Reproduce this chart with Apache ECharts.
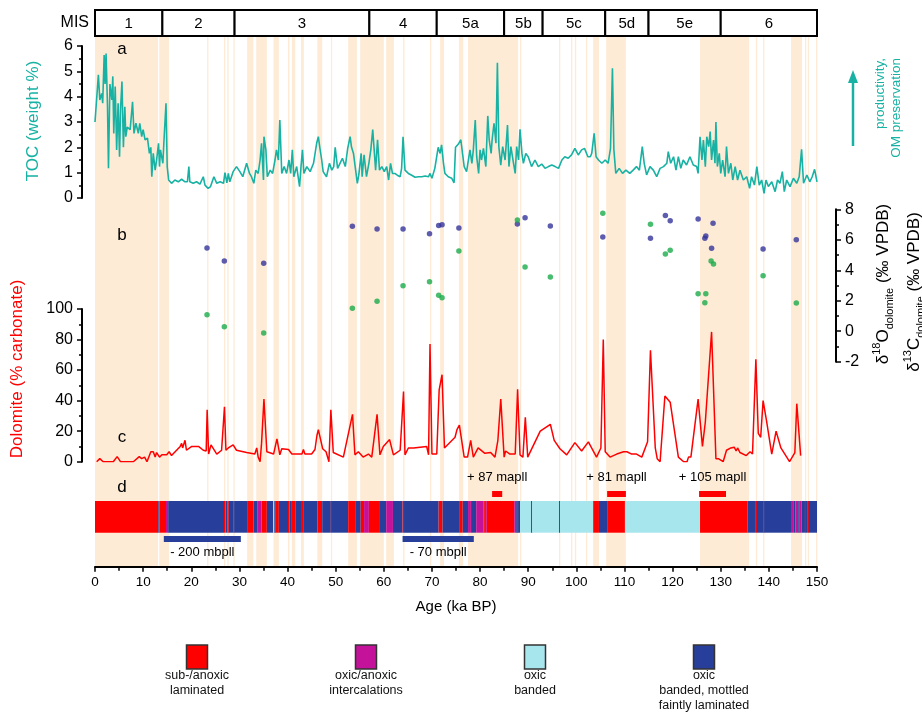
<!DOCTYPE html>
<html><head><meta charset="utf-8">
<script src="https://cdn.jsdelivr.net/npm/echarts@6/dist/echarts.min.js"></script>
<style>html,body{margin:0;padding:0;background:#fff}#c{width:922px;height:715px}</style>
</head><body><div id="c"></div>
<script>
// ---------------- DATA ----------------
const misEdges = [0, 14, 29, 57, 71, 85, 93, 106, 115, 130, 150];
const misLabels = ['1', '2', '3', '4', '5a', '5b', '5c', '5d', '5e', '6'];

const bandStart = [0, 13.35, 23.3, 26.8, 27.5, 28.75, 31.6, 33.5, 37.1, 40.1, 40.9, 42.8, 46.2, 49.0, 52.6, 55.1, 60.5, 64.0, 69.6, 71.7, 75.6, 77.5, 88.3, 96.4, 98.9, 99.7, 102.0, 103.5, 106.2, 125.7, 137.3, 138.8, 144.6, 147.5, 148.1, 149.8];
const bandEnd   = [13.1, 15.4, 23.5, 27.05, 27.75, 29.0, 32.9, 35.7, 38.2, 40.4, 41.6, 43.4, 47.2, 49.25, 54.4, 60.0, 62.1, 64.3, 69.85, 72.5, 76.5, 87.9, 88.5, 96.65, 99.1, 99.9, 102.2, 104.7, 110.3, 135.9, 137.5, 139.0, 146.9, 147.75, 148.35, 150];

const tocAge = [0,0.7,1.0,1.4,1.6,1.9,2.1,2.3,2.6,2.8,3.1,3.5,3.7,3.9,4.2,4.5,4.8,5.1,5.3,5.6,5.9,6.2,6.4,6.7,7.3,7.8,8.1,8.5,9.0,9.3,9.7,10.0,10.4,10.9,11.3,11.6,11.8,12.1,12.5,12.8,13.2,13.4,13.6,14.1,14.3,14.75,15.0,15.3,15.9,16.6,17.3,18.0,18.7,19.2,19.5,19.7,20.4,21.1,21.8,22.5,22.85,23.5,24.0,24.7,25.3,26.0,26.7,27.0,27.4,27.7,28.0,28.7,29.4,30.1,30.7,31.5,32.1,32.5,33.0,33.4,33.9,34.3,34.6,35.0,35.1,35.5,35.8,36.4,36.9,37.4,37.7,38.1,38.4,38.8,39.3,39.8,40.3,40.65,41.0,41.3,41.9,42.5,42.8,43.1,43.4,44.0,44.7,45.4,46.05,46.4,46.7,47.1,47.4,48.1,48.7,49.2,49.6,49.9,50.4,50.9,51.4,52.0,52.5,53.0,53.3,53.7,54.0,54.5,54.8,55.3,55.5,55.9,56.4,56.9,57.3,57.7,58.0,58.3,58.7,59.1,59.6,60.1,60.6,61.0,61.4,61.8,62.3,62.8,63.4,63.7,64.0,64.4,65.1,65.8,66.5,67.2,67.9,68.6,69.3,69.6,70.0,70.6,71.3,71.7,72.0,72.4,72.7,73.4,74.1,74.6,74.9,75.5,76.0,76.4,76.7,77.2,77.9,78.3,78.6,79.0,79.3,79.7,80.0,80.3,80.7,81.2,81.6,81.9,82.3,82.5,82.9,83.3,83.6,83.9,84.3,84.7,85.2,85.7,86.0,86.4,86.9,87.3,87.6,88.0,88.3,88.7,89.0,89.5,90.0,90.7,91.4,92.1,92.8,93.5,94.2,94.9,95.6,96.3,97.0,97.6,98.3,99.0,99.7,100.4,101.1,101.7,102.4,102.9,103.2,103.7,104.1,104.6,105.3,106.0,106.6,107.1,107.5,107.8,108.2,108.9,109.6,110.3,111.1,111.8,112.5,113.1,113.7,114.1,114.6,115.3,116.0,116.7,117.4,118.1,118.8,119.1,119.6,120.2,120.7,121.2,121.7,122.2,122.9,123.6,124.3,125.0,125.3,125.7,126.1,126.4,126.8,127.1,127.5,127.8,128.1,128.5,128.8,129.0,129.3,129.7,130.0,130.4,130.9,131.2,131.6,132.1,132.5,133.0,133.5,134.0,134.7,135.4,136.0,136.4,137.0,137.5,138.0,138.5,139.0,139.4,139.9,140.6,141.3,141.8,142.3,142.8,143.2,143.7,144.4,145.1,145.8,146.3,146.8,147.2,147.9,148.5,149.0,149.5,150.0];
const tocVal = [3.0,4.86,3.87,4.13,3.74,5.64,4.5,5.7,3.6,1.17,4.5,3.87,4.8,2.55,4.4,1.9,3.74,1.63,3.47,4.6,2.0,3.6,2.42,2.8,2.7,3.8,2.55,2.95,2.55,2.95,2.42,2.7,2.3,2.36,1.76,2.0,0.84,1.76,1.1,1.5,2.16,1.24,1.9,1.37,2.16,3.74,1.24,0.71,0.58,0.71,0.64,0.74,0.64,0.64,1.24,0.64,0.58,0.64,0.55,0.84,0.51,0.38,0.45,0.84,0.58,0.64,0.58,1.0,0.6,0.97,0.64,1.04,1.24,1.04,0.84,1.37,0.97,0.84,0.58,1.1,0.97,1.5,2.16,0.71,2.42,1.9,0.84,1.1,0.97,1.5,1.9,1.5,3.08,0.97,1.24,0.97,1.5,0.97,1.9,0.84,1.24,0.45,1.24,1.9,0.97,1.24,1.04,1.37,2.16,2.42,2.0,1.5,1.04,0.84,1.37,1.1,1.24,2.0,1.17,1.37,1.57,1.24,1.96,2.42,2.0,1.76,1.7,0.58,0.9,1.76,0.84,1.7,0.84,1.37,1.9,2.7,1.9,1.1,2.3,1.1,1.24,1.04,1.24,0.71,1.37,0.97,0.97,0.9,0.84,1.17,2.42,1.1,0.97,0.9,0.82,0.84,0.84,0.87,0.84,0.97,0.78,1.17,2.0,1.76,2.1,1.37,0.97,0.84,0.78,0.6,2.0,2.13,2.3,2.36,1.24,1.04,1.9,1.37,1.9,3.08,1.63,0.97,1.9,1.5,1.96,1.24,3.24,2.29,1.76,2.29,2.95,2.16,5.34,2.03,1.3,2.03,1.5,2.88,1.24,2.03,1.43,0.97,2.03,1.5,2.71,1.76,1.37,1.76,1.63,1.24,1.5,1.24,1.34,1.17,1.24,1.3,1.24,1.17,1.5,1.63,1.57,1.7,1.96,1.7,1.9,1.96,1.63,1.63,1.76,2.55,1.63,1.5,1.37,1.5,1.37,1.96,5.12,1.9,0.97,1.17,0.97,1.1,0.97,1.1,1.24,1.1,2.03,1.37,0.91,1.24,1.1,0.84,1.17,1.24,1.37,1.83,1.37,1.63,1.1,1.63,1.17,1.5,1.3,1.63,1.3,1.24,0.97,2.42,1.5,2.29,1.24,2.42,2.03,2.62,1.5,2.29,1.37,3.0,1.24,1.76,0.97,1.5,0.84,2.03,0.97,1.37,0.71,1.24,0.71,1.1,0.71,0.84,0.38,0.84,0.51,1.24,0.51,0.71,0.18,0.71,0.45,0.64,0.25,0.71,0.58,1.04,0.25,0.71,0.45,0.78,0.58,0.84,1.92,0.58,0.91,0.64,0.84,1.13,0.64];

const d18OAge = [23.27, 26.87, 35.05, 53.47, 58.6, 64.0, 69.5, 71.4, 72.1, 75.6, 87.75, 89.35, 94.6, 105.5, 115.4, 118.5, 119.5, 125.3, 126.7, 126.9, 128.1, 128.4, 138.8, 145.7];
const d18OVal = [5.46, 4.61, 4.46, 6.88, 6.71, 6.71, 6.4, 6.93, 6.99, 6.77, 7.04, 7.45, 6.9, 6.18, 6.1, 7.6, 7.25, 7.36, 6.1, 6.25, 5.44, 7.08, 5.4, 6.0];
const d13CAge = [23.27, 26.87, 35.05, 53.47, 58.6, 64.0, 69.5, 71.4, 72.1, 75.6, 87.75, 89.35, 94.6, 105.5, 115.4, 118.5, 119.5, 125.3, 126.7, 126.9, 128.0, 128.5, 138.8, 145.7];
const d13CVal = [1.08, 0.3, -0.12, 1.5, 1.96, 2.99, 3.25, 2.36, 2.2, 5.26, 7.3, 4.21, 3.56, 7.74, 7.02, 5.07, 5.31, 2.46, 1.87, 2.46, 4.61, 4.41, 3.64, 1.85];

const doloAge = [0.35,1.0,1.7,3.8,4.6,5.3,7.96,9.2,9.7,10.3,10.8,11.6,12.1,12.5,12.8,13.4,13.9,14.9,15.4,15.9,17.7,18.0,18.2,18.7,19.0,20.1,21.5,22.5,23.1,23.3,23.6,24.1,25.3,26.3,26.9,27.2,27.7,28.1,28.7,29.4,31.5,33.2,33.6,33.9,34.3,34.6,35.1,35.7,37.1,37.8,38.4,38.8,40.2,40.9,43.0,43.3,43.6,45.0,45.7,46.1,46.4,46.8,47.3,48.0,48.6,49.0,49.5,51.6,53.5,54.0,54.7,55.7,56.8,57.5,58.6,59.2,59.9,61.2,62.0,63.4,64.1,64.4,65.1,66.2,68.9,69.3,69.6,70.0,71.0,71.5,72.1,72.6,74.8,75.2,75.7,76.7,77.4,78.05,78.6,79.6,81.0,82.2,83.1,83.7,84.3,85.0,85.3,86.2,87.3,87.8,88.3,88.9,89.4,89.9,92.5,94.6,95.4,96.6,98.0,99.7,101.1,102.5,104.2,105.1,105.6,106.0,107.0,108.4,109.8,110.5,111.5,112.5,113.6,114.8,115.4,116.4,116.8,117.4,118.4,119.5,121.2,122.3,123.0,123.3,123.8,125.3,126.2,126.8,127.1,128.1,129.0,129.5,130.5,131.2,131.6,132.1,132.8,133.2,133.5,134.0,135.3,136.1,136.6,137.3,137.8,138.3,138.8,139.5,140.6,141.5,142.5,144.3,145.4,145.8,146.6];
const doloVal = [0,2,0,0,3.3,0,0,3.3,2,3,0,6.5,6.5,3,6,3,4.5,4.5,6.5,4,10,12,9,14,7.5,10,10,7.5,7,34,5,11,5,7.5,36,7.5,9,8.5,11,7.5,6,5,9,3,0,12,41,6.5,5,15,4.5,8.5,8,5,5,8,5,5,8,17,21,22,8.5,6.5,0,34,6,3,31,4.5,6.5,3,5,3,31,4.5,10,14.5,4.5,7.5,46,4.5,9,9,10,4.5,77,5,5,47,57,9,16,21,24,3,3,14,3,9,5.5,6,3,14,41,3,7,5,5,47.5,4.5,3,29,3,20,24.5,14,8.5,4.5,12.5,7,13,3,9,80,6.5,3,5,6.5,6.5,5,5,3,13,73,9,2,0,43,39,3,0,0,3,3,41,10,26,26.5,85,2,2,0,7.5,7,9,9.5,7,9,6,4,6.5,5,67,18.5,16,40,27,5,20,9,0,6,38,4];

// facies: 0 sub-/anoxic laminated, 1 oxic/anoxic intercalations, 2 oxic banded, 3 oxic banded mottled faintly laminated
const faciesEdges = [0,13.15,13.4,14.75,15.2,26.8,27.1,27.5,27.8,28.7,28.9,31.6,32.9,33.8,34.6,35.7,37.05,37.25,37.45,38.2,40.1,40.4,40.9,41.6,42.8,43.4,46.2,47.2,49.0,49.2,52.6,54.2,55.2,55.9,56.9,59.2,60.5,61.9,63.9,64.2,71.4,72.2,75.8,76.4,77.5,78.1,78.3,79.2,80.7,81.0,81.4,87.1,87.5,87.7,87.9,88.3,90.6,90.8,96.4,96.6,103.5,104.7,106.4,110.1,125.7,135.6,137.3,137.5,138.8,139.0,144.6,145.2,145.5,146.1,146.3,146.8,147.5,147.7,148.1,148.3,150];
const faciesType  = [0,3,0,1,3,0,3,0,3,0,3,0,3,1,0,3,2,3,0,3,0,3,0,3,0,3,0,3,0,3,0,3,0,1,0,3,1,3,0,3,0,3,0,3,1,0,3,1,0,1,0,1,3,0,3,2,3,2,0,2,0,3,0,2,0,3,0,3,0,3,1,3,1,3,1,3,0,3,0,3];
const faciesColors = ['#ff0000', '#c4129a', '#a8e6ee', '#273f9a'];
const faciesNames = ['sub-/anoxic\nlaminated', 'oxic/anoxic\nintercalations', 'oxic\nbanded', 'oxic\nbanded, mottled\nfaintly laminated'];

const mapStart = [82.5, 106.4, 125.5];
const mapEnd   = [84.6, 110.3, 131.1];
const mapLabel = ['+ 87 mapll', '+ 81 mapll', '+ 105 mapll'];
const mbpStart = [14.3, 63.9];
const mbpEnd   = [30.3, 78.7];
const mbpLabel = ['- 200 mbpll', '- 70 mbpll'];

// ---------------- CHART ----------------
const FONT = '"Liberation Sans", Arial, Helvetica, sans-serif';
const TEAL = '#17b2a3', RED = '#ff0000', BLUE = '#35359b', GREEN = '#1aab4b', BAND = '#fdebd6';
const chart = echarts.init(document.getElementById('c'));
const zip = (a, b) => a.map((v, i) => [v, b[i]]);
const G = {left: 95, right: 105};
const hiddenX = i => ({gridIndex: i, type: 'value', min: 0, max: 150, show: false});
const tickStyle = {lineStyle: {color: '#000', width: 1.5}};
const yAxisBase = (grid, min, max, interval, extra) => Object.assign({
  gridIndex: grid, type: 'value', min: min, max: max, interval: interval,
  axisLine: {show: true, onZero: false, lineStyle: {color: '#000', width: 2}},
  axisTick: Object.assign({show: true, length: 5}, tickStyle),
  minorTick: Object.assign({show: true, splitNumber: 2, length: 3}, tickStyle),
  axisLabel: {fontSize: 16, color: '#000', margin: 9, fontFamily: FONT},
  splitLine: {show: false}
}, extra);

function bandItem(params, api) {
  const cs = params.coordSys;
  const x0 = api.coord([api.value(0), 0])[0];
  const x1 = api.coord([api.value(1), 0])[0];
  return {type: 'rect', shape: {x: x0, y: cs.y, width: Math.max(x1 - x0, 1.3), height: cs.height}, style: {fill: BAND}};
}
function faciesItem(params, api) {
  const x0 = api.coord([api.value(0), 0])[0];
  const x1 = api.coord([api.value(1), 0])[0];
  return {type: 'rect', shape: {x: x0, y: 501, width: Math.max(x1 - x0, 1.2), height: 31.7}, style: {fill: faciesColors[api.value(2)]}};
}
function misItem(params, api) {
  const p0 = api.coord([api.value(0), 1]);
  const p1 = api.coord([api.value(1), 0]);
  return {type: 'group', children: [
    {type: 'rect', shape: {x: p0[0], y: p0[1], width: p1[0] - p0[0], height: p1[1] - p0[1]}, style: {fill: '#fff', stroke: '#000', lineWidth: 2}},
    {type: 'text', style: {text: misLabels[params.dataIndex], x: (p0[0] + p1[0]) / 2, y: (p0[1] + p1[1]) / 2 + 1, align: 'center', verticalAlign: 'middle', fontSize: 15, fontFamily: FONT, fill: '#000'}}
  ]};
}
function makeMarker(color, barY, textY, labels) {
  return function (params, api) {
    const x0 = api.coord([api.value(0), 0])[0];
    const x1 = api.coord([api.value(1), 0])[0];
    return {type: 'group', children: [
      {type: 'rect', shape: {x: x0, y: barY, width: x1 - x0, height: 6}, style: {fill: color}},
      {type: 'text', style: {text: labels[params.dataIndex], x: (x0 + x1) / 2, y: textY, align: 'center', verticalAlign: 'middle', fontSize: 13, fontFamily: FONT, fill: '#000'}}
    ]};
  };
}

const faciesData = faciesType.map((t, i) => [faciesEdges[i], faciesEdges[i + 1], t]);
const misData = misLabels.map((l, i) => [misEdges[i], misEdges[i + 1]]);

// legend graphic
const legendX = [197, 366, 535, 704];
const legendG = [];
faciesNames.forEach((n, i) => {
  legendG.push({type: 'rect', shape: {x: legendX[i] - 10.5, y: 645, width: 21, height: 24}, style: {fill: faciesColors[i], stroke: '#333', lineWidth: 1.5}});
  legendG.push({type: 'text', style: {text: n, x: legendX[i], y: 668, align: 'center', verticalAlign: 'top', fontSize: 12.5, lineHeight: 15, fontFamily: FONT, fill: '#111'}, z: 10});
});

const isoRich = c => ({
  n: {fontSize: 17, fontFamily: FONT, color: c, lineHeight: 24, verticalAlign: 'middle'},
  sup: {fontSize: 11, fontFamily: FONT, color: c, lineHeight: 24, verticalAlign: 'top'},
  sub: {fontSize: 11, fontFamily: FONT, color: c, lineHeight: 24, verticalAlign: 'bottom'}
});

const option = {
  backgroundColor: '#fff',
  animation: false,
  grid: [
    Object.assign({top: 46, height: 152}, G),
    Object.assign({top: 209.3, height: 152.4}, G),
    Object.assign({top: 309, height: 152.7}, G),
    Object.assign({top: 36, height: 530.7}, G),
    Object.assign({top: 10, height: 26}, G)
  ],
  xAxis: [
    hiddenX(0), hiddenX(1), hiddenX(2),
    {gridIndex: 3, type: 'value', min: 0, max: 150, interval: 10, position: 'bottom',
      axisLine: {onZero: false, lineStyle: {color: '#000', width: 2}}, axisTick: Object.assign({length: 5}, tickStyle),
      minorTick: Object.assign({show: true, splitNumber: 2, length: 4}, tickStyle),
      axisLabel: {fontSize: 13.5, color: '#000', margin: 9, fontFamily: FONT}, splitLine: {show: false}},
    hiddenX(4)
  ],
  yAxis: [
    yAxisBase(0, 0, 6, 1, {offset: 13}),
    yAxisBase(1, -2, 8, 2, {position: 'right', offset: 19}),
    yAxisBase(2, 0, 100, 20, {offset: 13}),
    {gridIndex: 3, type: 'value', min: 0, max: 1, show: false},
    {gridIndex: 4, type: 'value', min: 0, max: 1, show: false}
  ],
  series: [
    {type: 'custom', name: 'bands', xAxisIndex: 3, yAxisIndex: 3, data: zip(bandStart, bandEnd), renderItem: bandItem, z: 0, silent: true},
    {type: 'custom', name: 'MIS', xAxisIndex: 4, yAxisIndex: 4, data: misData, renderItem: misItem, z: 3, silent: true},
    {type: 'line', name: 'TOC', xAxisIndex: 0, yAxisIndex: 0, data: zip(tocAge, tocVal), showSymbol: false, lineStyle: {color: TEAL, width: 1.6}, z: 5},
    {type: 'scatter', name: 'd18O', xAxisIndex: 1, yAxisIndex: 1, data: zip(d18OAge, d18OVal), symbolSize: 5.5, itemStyle: {color: BLUE}, z: 6},
    {type: 'scatter', name: 'd13C', xAxisIndex: 1, yAxisIndex: 1, data: zip(d13CAge, d13CVal), symbolSize: 5.5, itemStyle: {color: GREEN}, z: 6},
    {type: 'line', name: 'Dolomite', xAxisIndex: 2, yAxisIndex: 2, data: zip(doloAge, doloVal), showSymbol: false, lineStyle: {color: RED, width: 1.5}, z: 5},
    {type: 'custom', name: 'facies', xAxisIndex: 3, yAxisIndex: 3, data: faciesData, renderItem: faciesItem, z: 4, silent: true},
    {type: 'custom', name: 'mapll', xAxisIndex: 3, yAxisIndex: 3, data: zip(mapStart, mapEnd), renderItem: makeMarker(RED, 491, 477, mapLabel), z: 4, silent: true},
    {type: 'custom', name: 'mbpll', xAxisIndex: 3, yAxisIndex: 3, data: zip(mbpStart, mbpEnd), renderItem: makeMarker('#273f9a', 536, 552, mbpLabel), z: 4, silent: true}
  ],
  graphic: [
    {type: 'text', x: 89, y: 23, style: {text: 'MIS', align: 'right', verticalAlign: 'middle', fontSize: 16, fontFamily: FONT, fill: '#000'}},
    {type: 'text', x: 122, y: 49, style: {text: 'a', align: 'center', verticalAlign: 'middle', fontSize: 17, fontFamily: FONT, fill: '#000'}, z: 10},
    {type: 'text', x: 122, y: 235, style: {text: 'b', align: 'center', verticalAlign: 'middle', fontSize: 17, fontFamily: FONT, fill: '#000'}, z: 10},
    {type: 'text', x: 122, y: 437, style: {text: 'c', align: 'center', verticalAlign: 'middle', fontSize: 17, fontFamily: FONT, fill: '#000'}, z: 10},
    {type: 'text', x: 122, y: 487, style: {text: 'd', align: 'center', verticalAlign: 'middle', fontSize: 17, fontFamily: FONT, fill: '#000'}, z: 10},
    {type: 'text', x: 33, y: 121, rotation: Math.PI / 2, style: {text: 'TOC (weight %)', align: 'center', verticalAlign: 'middle', fontSize: 17, fontFamily: FONT, fill: TEAL}},
    {type: 'text', x: 17, y: 369, rotation: Math.PI / 2, style: {text: 'Dolomite (% carbonate)', align: 'center', verticalAlign: 'middle', fontSize: 17, fontFamily: FONT, fill: RED}},
    {type: 'text', x: 883, y: 284, rotation: Math.PI / 2, style: {text: '{n|δ}{sup|18}{n|O}{sub|dolomite}{n| (‰ VPDB)}', align: 'center', verticalAlign: 'middle', rich: isoRich('#3c3ca0')}},
    {type: 'text', x: 914, y: 292, rotation: Math.PI / 2, style: {text: '{n|δ}{sup|13}{n|C}{sub|dolomite}{n| (‰ VPDB)}', align: 'center', verticalAlign: 'middle', rich: isoRich(GREEN)}},
    {type: 'text', x: 880, y: 58, rotation: Math.PI / 2, style: {text: 'productivity,', align: 'right', verticalAlign: 'middle', fontSize: 13.5, fontFamily: FONT, fill: TEAL}},
    {type: 'text', x: 896, y: 58, rotation: Math.PI / 2, style: {text: 'OM preservation', align: 'right', verticalAlign: 'middle', fontSize: 13.5, fontFamily: FONT, fill: TEAL}},
    {type: 'line', shape: {x1: 853, y1: 146, x2: 853, y2: 80}, style: {stroke: TEAL, lineWidth: 2.5}},
    {type: 'polygon', shape: {points: [[848, 83], [858, 83], [853, 70]]}, style: {fill: TEAL}},
    {type: 'text', x: 456, y: 607, style: {text: 'Age (ka BP)', align: 'center', verticalAlign: 'middle', fontSize: 15, fontFamily: FONT, fill: '#000'}},
    {type: 'group', children: legendG}
  ]
};
chart.setOption(option);
</script>
</body></html>
